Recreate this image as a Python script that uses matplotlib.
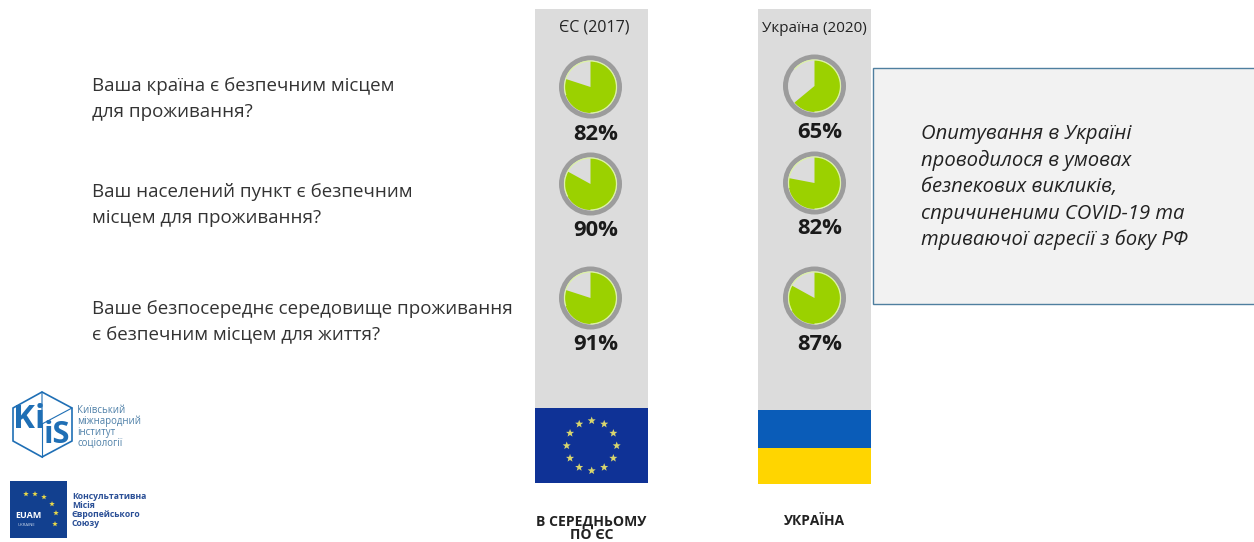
import matplotlib
matplotlib.use("Agg")
import numpy as np
import matplotlib.pyplot as plt
from matplotlib.patches import Wedge, Circle, Rectangle, Polygon, Arc

W, H = 1254, 542

questions = ["Ваша країна є безпечним місцем\nдля проживання?",
             "Ваш населений пункт є безпечним\nмісцем для проживання?",
             "Ваше безпосереднє середовище проживання\nє безпечним місцем для життя?"]
eu_labels = ["82%", "90%", "91%"]
ua_labels = ["65%", "82%", "87%"]
# how much of the circle is actually green in the picture, not the printed number
eu_filled = [80, 83, 80]
ua_filled = [64, 78, 83]
note = ("Опитування в Україні\nпроводилося в умовах\nбезпекових викликів,\n"
        "спричиненими COVID-19 та\nтриваючої агресії з боку РФ")

plt.rcParams['font.family'] = ['Open Sans', 'DejaVu Sans']

fig = plt.figure(figsize=(W / 100, H / 100), dpi=100)
ax = fig.add_axes([0, 0, 1, 1])
ax.set_xlim(0, W)
ax.set_ylim(H, 0)
ax.axis("off")

GREY = "#dcdcdc"
GREEN = "#9bd100"


def px(size):
    # font size from pixel height at dpi 100
    return size * 0.72


def pie(cx, cy, share):
    ax.add_patch(Circle((cx, cy), 29, fc=GREY, ec="#9c9c9c", lw=3.6))
    # y axis is flipped so growing angle runs clockwise on screen
    end = -90 + 3.6 * share
    ax.add_patch(Wedge((cx, cy), 26, -90, end, fc=GREEN, ec="none"))
    ax.add_patch(Arc((cx, cy), 52, 52, theta1=-end, theta2=90, color="#dcf2a6", lw=0.9))


def star(cx, cy, r, col):
    a = np.deg2rad(np.arange(10) * 36 - 90)
    rad = np.where(np.arange(10) % 2 == 0, r, r * 0.42)
    ax.add_patch(Polygon(np.c_[cx + rad * np.cos(a), cy + rad * np.sin(a)], fc=col, ec="none"))


# columns
ax.add_patch(Rectangle((535, 9), 113, 400, fc=GREY, ec="none"))
ax.add_patch(Rectangle((758, 9), 113, 402, fc=GREY, ec="none"))
ax.text(594, 28, "ЄС (2017)", ha="center", va="center", fontsize=px(16), color="#222222")
ax.text(814.5, 28, "Україна (2020)", ha="center", va="center", fontsize=px(15.2), color="#222222")

eu_y = [87, 184, 298]
ua_y = [86, 183, 298]
eu_lab_y = [134, 230, 345]
ua_lab_y = [132, 229, 344]
for i in range(3):
    pie(590.5, eu_y[i], eu_filled[i])
    pie(814.5, ua_y[i], ua_filled[i])
    ax.text(596, eu_lab_y[i], eu_labels[i], ha="center", va="center", fontsize=px(22),
            fontweight="bold", color="#1a1a1a")
    ax.text(820, ua_lab_y[i], ua_labels[i], ha="center", va="center", fontsize=px(22),
            fontweight="bold", color="#1a1a1a")

# questions
q_y = [99, 205, 322]
for q, y in zip(questions, q_y):
    ax.text(92, y, q, ha="left", va="center", fontsize=px(18.8), color="#333333", linespacing=1.55)

# flags
ax.add_patch(Rectangle((535, 408), 113, 75, fc="#0f3296", ec="none"))
for k in range(12):
    a = np.deg2rad(k * 30)
    star(591.7 + 25 * np.sin(a), 445.7 - 25 * np.cos(a), 4.2, "#d8d56e")
ax.add_patch(Rectangle((758, 410), 113, 38, fc="#0a5cb8", ec="none"))
ax.add_patch(Rectangle((758, 448), 113, 36, fc="#ffd500", ec="none"))

ax.text(591.5, 528.5, "В СЕРЕДНЬОМУ\nПО ЄС", ha="center", va="center", fontsize=px(14),
        fontweight="bold", color="#222222", linespacing=0.92)
ax.text(814.5, 521, "УКРАЇНА", ha="center", va="center", fontsize=px(13.8),
        fontweight="bold", color="#222222")

# note box
ax.add_patch(Rectangle((873, 68), 390, 236, fc="#f2f2f2", ec="#4f7f9f", lw=1))
ax.text(921, 187, note, ha="left", va="center", fontsize=px(20.3), style="italic",
        color="#222222", linespacing=1.41)

# KIIS logo
BLUE = "#1f6fb5"
ax.add_patch(Polygon([(13, 408), (42, 392), (72, 408), (72, 441), (42, 457), (13, 441)],
                     fc="none", ec=BLUE, lw=1.2))
ax.plot([42, 42, 72], [392, 424, 408], color=BLUE, lw=0.8)
ax.plot([42, 42], [424, 457], color=BLUE, lw=0.8)
ax.text(29, 419, "Ki", ha="center", va="center", fontsize=px(33), fontweight="bold", color=BLUE)
ax.text(57, 435, "iS", ha="center", va="center", fontsize=px(31), fontweight="bold", color=BLUE)
ax.text(77, 427, "Київський\nміжнародний\nінститут\nсоціології", ha="left", va="center",
        fontsize=px(9.6), color="#4f80a8", linespacing=1.0)

# EUAM logo
ax.add_patch(Rectangle((10, 481), 57, 57, fc="#12408f", ec="none"))
for sx, sy in [(26, 494), (35, 494), (44, 497), (52, 504), (56, 513), (55, 524)]:
    star(sx, sy, 2.9, "#e8d84a")
ax.text(28, 515, "EUAM", ha="center", va="center", fontsize=px(9), fontweight="bold", color="white")
ax.text(27, 524.5, "UKRAINE", ha="center", va="center", fontsize=px(4.2), color="#c9d6ea")
ax.text(72, 510, "Консультативна\nМісія\nЄвропейського\nСоюзу", ha="left", va="center",
        fontsize=px(8.7), fontweight="bold", color="#2a4f96", linespacing=0.98)

fig.savefig("out.png", dpi=100)
